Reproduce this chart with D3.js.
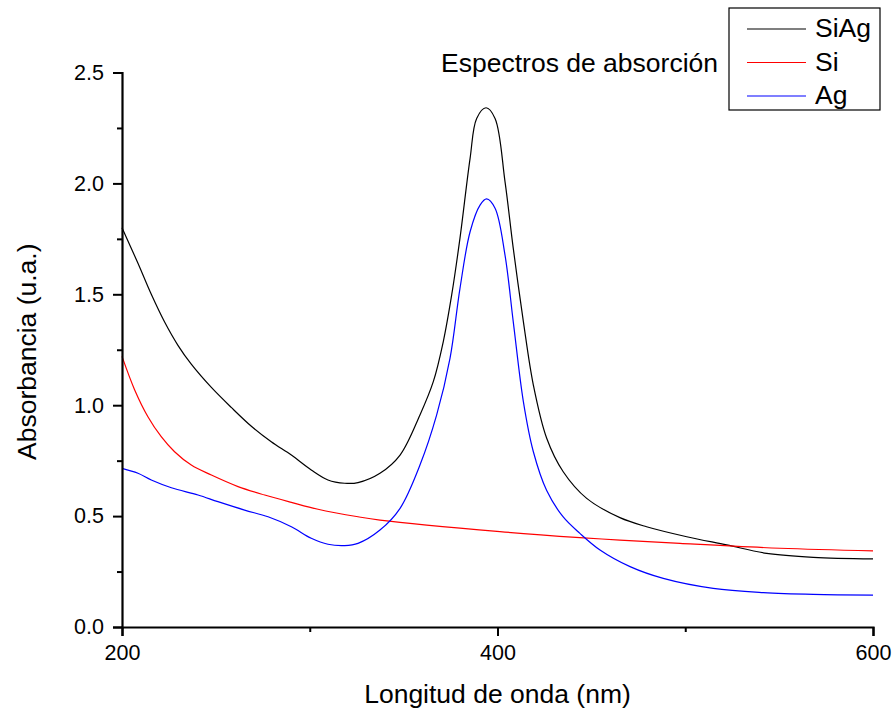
<!DOCTYPE html>
<html>
<head>
<meta charset="utf-8">
<script src="https://cdn.jsdelivr.net/npm/d3@7"></script>
<style>
  body { margin: 0; background: #fff; }
  text { font-family: "Liberation Sans", Arial, sans-serif; fill: #000; }
</style>
</head>
<body>
<div id="chart"></div>
<script>
// Absorption spectra, values
const siagNm  = [200, 208.5, 215.6, 222.7, 229.8, 236.9, 247.6, 258.2, 268.9, 279.5, 290.2, 300.8, 309.7, 318.6, 325.7, 337.4, 348.1, 358.7, 365.8, 371.1, 375.6, 380, 385.4, 388.9, 393.9, 398.7, 404, 408.4, 413.8, 419.1, 426.2, 435, 447.5, 465.2, 479.4, 500.8, 522.1, 543.4, 568.2, 600];
const siagAbs = [1.80, 1.64, 1.50, 1.375, 1.27, 1.185, 1.08, 0.99, 0.905, 0.835, 0.775, 0.708, 0.663, 0.648, 0.651, 0.693, 0.775, 0.956, 1.106, 1.286, 1.497, 1.752, 2.113, 2.293, 2.341, 2.293, 2.008, 1.707, 1.376, 1.091, 0.851, 0.700, 0.580, 0.493, 0.452, 0.407, 0.370, 0.332, 0.314, 0.307];

const siNm  = [200, 206.7, 213.8, 220.9, 228, 236.9, 247.6, 261.8, 276, 290.2, 304.4, 325.7, 337.4, 401.3, 443.9, 465.2, 497.2, 550.4, 600];
const siAbs = [1.22, 1.07, 0.948, 0.858, 0.790, 0.730, 0.685, 0.633, 0.595, 0.562, 0.531, 0.497, 0.482, 0.430, 0.403, 0.392, 0.377, 0.355, 0.343];

const agNm  = [200, 208.5, 215.6, 226.3, 240.5, 251.1, 265.3, 277.8, 290.2, 300.8, 309.7, 318.6, 325.7, 337.4, 348.1, 358.7, 367.6, 374.7, 380, 385.4, 390.7, 394.2, 398.7, 404, 408.4, 413.8, 419.1, 426.2, 435, 443.9, 454.6, 470.6, 488.3, 514.9, 541.6, 568.2, 600];
const agAbs = [0.715, 0.693, 0.663, 0.628, 0.595, 0.565, 0.527, 0.497, 0.452, 0.400, 0.373, 0.367, 0.377, 0.437, 0.535, 0.730, 0.956, 1.211, 1.526, 1.782, 1.902, 1.930, 1.888, 1.677, 1.376, 1.015, 0.790, 0.615, 0.496, 0.422, 0.347, 0.272, 0.219, 0.174, 0.155, 0.147, 0.144];

const seriesNames = ["SiAg", "Si", "Ag"];
const seriesColors = ["#000000", "#ff0000", "#0000ff"];

const xTicks = [200, 400, 600];
const xMinor = [300, 500];
const yTicks = [0, 0.5, 1.0, 1.5, 2.0, 2.5];
const yMinor = [0.25, 0.75, 1.25, 1.75, 2.25];

const W = 894, H = 713;
const margin = { top: 72.5, right: 21, bottom: 86, left: 122 };
const width = W - margin.left - margin.right;
const height = H - margin.top - margin.bottom;

const svg = d3.select("#chart")
  .append("svg")
    .attr("width", W)
    .attr("height", H);

const g = svg.append("g")
  .attr("transform", `translate(${margin.left},${margin.top})`);

const x = d3.scaleLinear().domain([200, 600]).range([0, width]);
const y = d3.scaleLinear().domain([0, 2.5]).range([height, 0]);

// curves
const line = d3.line()
  .x(d => x(d[0]))
  .y(d => y(d[1]))
  .curve(d3.curveCatmullRom.alpha(0.5));

const series = [
  d3.zip(siagNm, siagAbs),
  d3.zip(siNm, siAbs),
  d3.zip(agNm, agAbs)
];

series.forEach((s, i) => {
  g.append("path")
    .datum(s)
    .attr("fill", "none")
    .attr("stroke", seriesColors[i])
    .attr("stroke-width", 1.2)
    .attr("d", line);
});

// X axis
g.append("g")
  .attr("transform", `translate(0,${height})`)
  .call(d3.axisBottom(x).tickValues(xTicks).tickSize(9).tickPadding(9).tickFormat(d3.format("d")));
g.append("g")
  .attr("transform", `translate(0,${height})`)
  .call(d3.axisBottom(x).tickValues(xMinor).tickSize(5).tickFormat(""))
  .select(".domain").remove();

// Y axis
g.append("g")
  .call(d3.axisLeft(y).tickValues(yTicks).tickSize(9).tickPadding(9).tickFormat(d3.format(".1f")));
g.append("g")
  .call(d3.axisLeft(y).tickValues(yMinor).tickSize(5).tickFormat(""))
  .select(".domain").remove();

g.selectAll(".domain").attr("stroke-width", 2.2);
g.selectAll(".tick line").attr("stroke-width", 2);
g.selectAll(".tick text").style("font-size", "21.5px").style("font-family", "'Liberation Sans', Arial, sans-serif");

// axis titles
svg.append("text")
  .attr("x", margin.left + width / 2)
  .attr("y", 703)
  .style("text-anchor", "middle")
  .style("font-size", "26.5px")
  .text("Longitud de onda (nm)");

svg.append("text")
  .attr("transform", `translate(36,${margin.top + height / 2 + 2}) rotate(-90)`)
  .style("text-anchor", "middle")
  .style("font-size", "26.5px")
  .text("Absorbancia (u.a.)");

// chart title
svg.append("text")
  .attr("x", 718)
  .attr("y", 72)
  .style("text-anchor", "end")
  .style("font-size", "26.5px")
  .text("Espectros de absorción");

// legend
const legend = svg.append("g").attr("transform", "translate(729,8)");
legend.append("rect")
  .attr("width", 151)
  .attr("height", 102)
  .attr("fill", "#fff")
  .attr("stroke", "#000")
  .attr("stroke-width", 1.2);

seriesNames.forEach((name, i) => {
  const ly = 21 + i * 33.5;
  legend.append("line")
    .attr("x1", 18).attr("x2", 77)
    .attr("y1", ly).attr("y2", ly)
    .attr("stroke", seriesColors[i])
    .attr("stroke-width", 1.2);
  legend.append("text")
    .attr("x", 86)
    .attr("y", ly + 8)
    .style("font-size", "26.5px")
    .text(name);
});
</script>
</body>
</html>
